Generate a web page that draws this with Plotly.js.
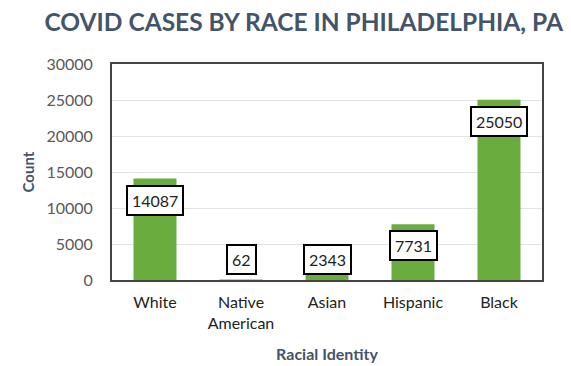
<!DOCTYPE html>
<html>
<head>
<meta charset="utf-8">
<script src="https://cdn.plot.ly/plotly-3.0.1.min.js"></script>
<style>html,body{margin:0;padding:0;background:#fff;}#chart{width:571px;height:366px;}</style>
</head>
<body>
<div id="chart"></div>
<script>
const categories = ["White", "Native<br>American", "Asian", "Hispanic", "Black"];
const counts = [14087, 62, 2343, 7731, 25050];
const yTicks = [0, 5000, 10000, 15000, 20000, 25000, 30000];

const FONT = "Lato, 'Open Sans', sans-serif";
const labelMin = 5830;

const annotations = categories.map((c, i) => ({
  x: c, y: Math.max(counts[i], labelMin), xref: 'x', yref: 'y',
  text: String(counts[i]), showarrow: false, yanchor: 'top', yshift: -6,
  font: {family: FONT, size: 16, color: '#222'},
  bgcolor: '#fff', bordercolor: '#000', borderwidth: 2, borderpad: 4
}));

Plotly.newPlot('chart', [{
  type: 'bar', x: categories, y: counts,
  marker: {color: '#6aac3e', line: {width: 0}},
  hoverinfo: 'none'
}], {
  width: 571, height: 366,
  margin: {l: 112, r: 29, t: 64, b: 86},
  paper_bgcolor: '#fff', plot_bgcolor: '#fff',
  bargap: 0.5,
  title: {text: '<b>COVID CASES BY RACE IN PHILADELPHIA, PA</b>', x: 0.532, xanchor: 'center', y: 0.94, yanchor: 'middle',
    font: {family: FONT, size: 24.5, color: '#44546a'}},
  xaxis: {
    tickfont: {family: FONT, size: 16, color: '#222'},
    showline: true, linecolor: '#444', linewidth: 2, mirror: true,
    ticks: '', showgrid: false, ticklabelstandoff: 7,
    title: {text: '<b>Racial Identity</b>', font: {family: FONT, size: 16, color: '#44546a'}, standoff: 18}
  },
  yaxis: {
    range: [0, 30000], tickvals: yTicks, ticktext: yTicks.map(String),
    tickfont: {family: FONT, size: 16, color: '#595959'},
    showline: true, linecolor: '#444', linewidth: 2, mirror: true,
    gridcolor: '#e4e4e4', gridwidth: 1, zeroline: false, ticks: '', ticklabelstandoff: 14,
    title: {text: '<b>Count</b>', font: {family: FONT, size: 15, color: '#44546a'}, standoff: 8}
  },
  annotations: annotations,
  showlegend: false
}, {displayModeBar: false, staticPlot: true});
</script>
</body>
</html>
